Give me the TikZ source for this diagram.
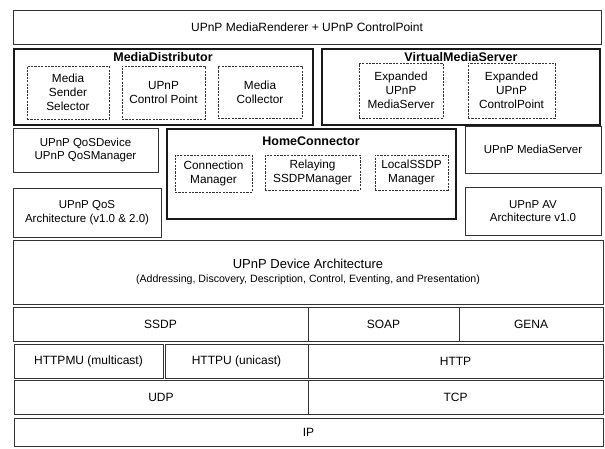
\documentclass[tikz,border=0pt]{standalone}
\usepackage{fontspec}
\setmainfont{Liberation Sans}
% \blk[style]{name}{x1}{y1}{x2}{y2}{text}: a box given by its corners
\newcommand\blk[7][box]{%
  \node[#1,minimum width={(#5-#3)*1pt},minimum height={(#6-#4)*1pt}]
    (#2) at ({(#3+#5)/2},{(#4+#6)/2}) {#7};}
\begin{document}
\begin{tikzpicture}[x=1pt,y=-1pt,
  box/.style={draw=black!80, line width=0.75pt, inner sep=0pt, outer sep=0pt,
    align=center, font=\fontsize{11.5}{13.5}\selectfont},
  layer/.style={box, font=\fontsize{12}{14}\selectfont},
  frame/.style={box, draw=black!90, line width=2.4pt},
  part/.style={box, dash pattern=on 2.2pt off 1.2pt, line width=0.9pt,
    font=\fontsize{11.8}{14}\selectfont},
  title/.style={font=\bfseries\fontsize{12.5}{14}\selectfont, inner sep=0pt}]
\useasboundingbox (0,0) rectangle (605,448);

% application layer
\blk[layer]{top}{13}{10}{601}{44}{UPnP MediaRenderer + UPnP ControlPoint}

\blk[frame]{md}{14}{49}{313}{125}{}
\node[title] (mdt) at (163,57) {MediaDistributor};
\blk[part]{mss}{27}{66}{109}{119}{Media\\Sender\\Selector}
\blk[part]{ucp}{122}{66}{205}{119}{UPnP\\Control Point}
\blk[part]{mc}{218}{66}{302}{118}{Media\\Collector}

\blk[frame]{vms}{322}{49}{600}{125}{}
\node[title] (vmst) at (461,57) {VirtualMediaServer};
\blk[part]{eums}{359}{63}{443}{118}{Expanded\\UPnP\\MediaServer}
\blk[part]{eucp}{468}{63}{555}{118}{Expanded\\UPnP\\ControlPoint}

\blk{qosd}{13}{128}{158}{172}{UPnP QoSDevice\\UPnP QoSManager}
\blk{qosa}{13}{188}{161}{237}{UPnP QoS\\Architecture (v1.0 \& 2.0)}

\blk[frame]{hc}{167}{129}{456}{219}{}
\node[title] (hct) at (311,141) {HomeConnector};
\blk[part]{cm}{175}{155}{252}{192}{Connection\\Manager}
\blk[part]{rsm}{265}{155}{360}{190}{Relaying\\SSDPManager}
\blk[part]{lsm}{375}{155}{448}{190}{LocalSSDP\\Manager}

\blk{ms}{465}{126}{601}{173}{UPnP MediaServer}
\blk{av}{465}{187}{601}{235}{UPnP AV\\Architecture v1.0}

% device architecture and protocol stack
\blk{uda}{13}{240}{603}{304}{\fontsize{13}{15}\selectfont UPnP Device Architecture\\[1pt]
  \fontsize{10.6}{12}\selectfont (Addressing, Discovery, Description, Control, Eventing, and Presentation)}

\blk[layer]{ssdp}{13}{307}{308}{341}{SSDP}
\blk[layer]{soap}{308}{307}{459}{341}{SOAP}
\blk[layer]{gena}{459}{307}{603}{341}{GENA}

\blk[layer]{httpmu}{14}{344}{163}{378}{HTTPMU (multicast)}
\blk[layer]{httpu}{165}{344}{308}{378}{HTTPU (unicast)}
\blk[layer]{http}{308}{344}{603}{378}{HTTP}

\blk[layer]{udp}{14}{380}{308}{414}{UDP}
\blk[layer]{tcp}{308}{380}{603}{414}{TCP}

\blk[layer]{ip}{14}{418}{603}{446}{IP}
\end{tikzpicture}
\end{document}
